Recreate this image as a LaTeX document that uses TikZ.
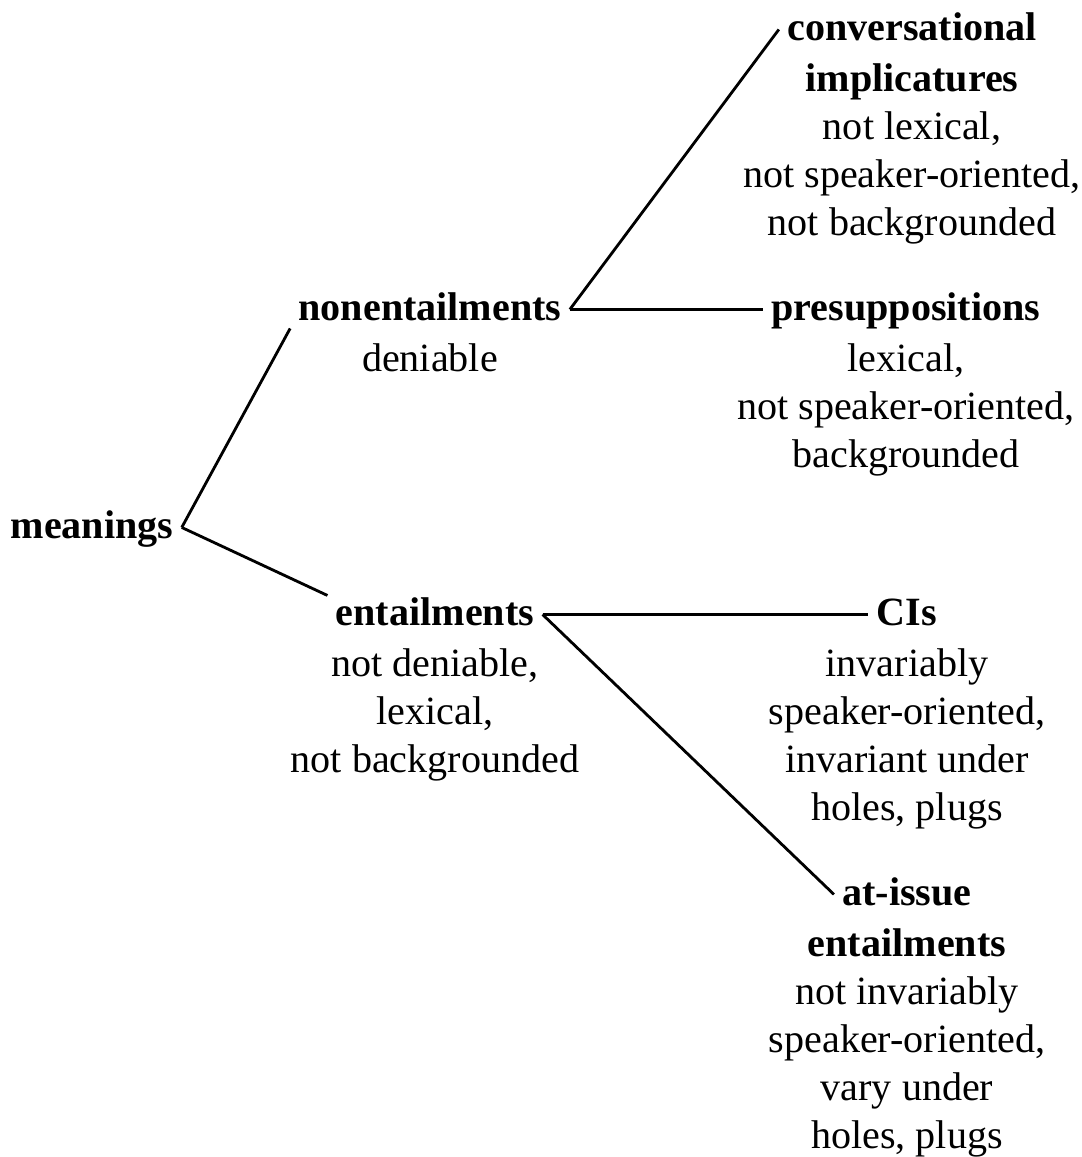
\documentclass[tikz,border=0pt]{standalone}
\usepackage{fontspec}
\setmainfont{Liberation Serif}
\usetikzlibrary{positioning}
\begin{document}
\begin{tikzpicture}[x=0.01cm,y=-0.01cm,line width=0.8pt,
  head/.style={font=\fontsize{11.4}{13.66}\selectfont\bfseries,inner sep=2pt,text height=6pt,text depth=0pt,anchor=base},
  desc/.style={font=\fontsize{11.4}{13.66}\selectfont,align=center,inner sep=0pt}]
\useasboundingbox (0,0) rectangle (1081,1157);
\node (meanings) at (92,538) [head] {meanings};
\node   (nonent) at (430,320) [head] {nonentailments};
\node      (ent) at (435,625) [head] {entailments};
\node     (conv) at (912,40)  [head] {conversational};
\node   (presup) at (906,320) [head] {presuppositions};
\node      (cis) at (907,625) [head] {CIs};
\node  (atissue) at (907,905) [head] {at-issue};
\node (nonenttext)  [desc,below=3.9pt of nonent]  {deniable};
\node (enttext)     [desc,below=3.9pt of ent]     {not deniable,\\lexical,\\not backgrounded};
\node (convtext)    [desc,below=3.9pt of conv]    {\textbf{implicatures}\\not lexical,\\not speaker-oriented,\\not backgrounded};
\node (presuptext)  [desc,below=3.9pt of presup]  {lexical,\\not speaker-oriented,\\backgrounded};
\node (cistext)     [desc,below=3.9pt of cis]     {invariably\\speaker-oriented,\\invariant under\\holes, plugs};
\node (atissuetext) [desc,below=3.9pt of atissue] {\textbf{entailments}\\not invariably\\speaker-oriented,\\vary under\\holes, plugs};
\draw (meanings.east) -- (nonent.south west);
\draw (meanings.east) -- (ent.north west);
\draw (nonent.east) -- (conv.west);
\draw (nonent.east) -- (presup.west);
\draw (ent.east) -- (cis.west);
\draw (ent.east) -- (atissue.west);
\end{tikzpicture}
\end{document}
